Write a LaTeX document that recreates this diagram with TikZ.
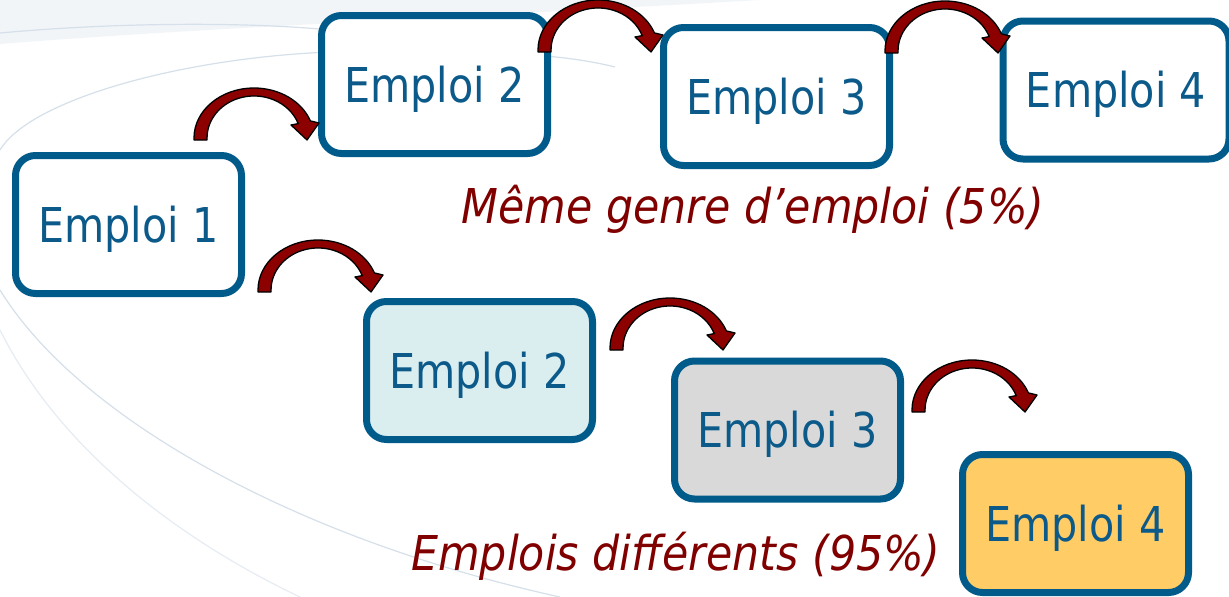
\documentclass[tikz,border=0pt]{standalone}
\usepackage{fontspec}
\setmainfont{DejaVu Sans}[FakeStretch=0.86]
\newfontfamily\labfont{DejaVu Sans}[FakeStretch=0.89]
\definecolor{boxblue}{RGB}{0,90,138}
\definecolor{txtblue}{RGB}{12,90,138}
\definecolor{darkred}{RGB}{128,0,0}
\definecolor{arrowred}{RGB}{140,0,0}
\definecolor{lightcyan}{RGB}{218,238,240}
\definecolor{lightgrey}{RGB}{217,217,217}
\definecolor{softyellow}{RGB}{255,204,102}
\definecolor{swoosh}{RGB}{214,224,234}
\definecolor{haze}{RGB}{242,245,248}
\newcommand\jobarrow[1]{%
  \begin{scope}[shift={(#1)}]
    \filldraw[arrowshape] (0,0) -- (0,-2)
      arc[start angle=180, end angle=340, x radius=60, y radius=50]
      -- (125,-17) -- (113,0) -- (97,-15) -- (104.2,-16.4)
      arc[start angle=340, end angle=180, x radius=47, y radius=42]
      -- (13,0) -- cycle;
  \end{scope}}
\begin{document}
\begin{tikzpicture}[x=1pt,y=-1pt,
  jobbox/.style={draw=boxblue, line width=7pt, rounded corners=20pt,
    minimum width=226pt, minimum height=138pt, inner sep=0pt,
    text height=35pt, text depth=0pt, text=txtblue,
    font=\fontsize{48}{58}\selectfont, fill=white},
  lab/.style={text=darkred, anchor=base, inner sep=0pt,
    font=\labfont\itshape\fontsize{48}{58}\selectfont},
  swoo/.style={draw=swoosh, line width=1.2pt},
  arrowshape/.style={fill=arrowred, draw=black, line width=1.3pt, line join=round}
]
\useasboundingbox (0,0) rectangle (1229,597);
\clip (0,0) rectangle (1229,597);
% background
\fill[white] (0,0) rectangle (1229,597);
\fill[haze] (0,0) -- (760,0) .. controls (450,18) and (200,28) .. (0,44) -- cycle;
\draw[swoo] (0,33) .. controls (120,22) and (250,22) .. (330,30);
\draw[swoo] (330,52) .. controls (180,58) and (30,100) .. (0,150);
\draw[swoo] (545,56) .. controls (570,58) and (595,62) .. (615,67);
\draw[swoo] (0,290) .. controls (80,420) and (300,540) .. (560,597);
\draw[swoo, opacity=.6] (0,330) .. controls (60,450) and (180,540) .. (300,597);
% boxes
\node[jobbox] (e1) at (128.5,224.5) {Emploi 1};
\node[jobbox] (t2) at (434.5,84.5) {Emploi 2};
\node[jobbox] (t3) at (776.5,96.5) {Emploi 3};
\node[jobbox] (t4) at (1116,90) {Emploi 4};
\node[jobbox, fill=lightcyan] (b2) at (479.5,370.5) {Emploi 2};
\node[jobbox, fill=lightgrey] (b3) at (787.5,430) {Emploi 3};
\node[jobbox, fill=softyellow] (b4) at (1075.5,523.5) {Emploi 4};
% labels
\node[lab] (same) at (753,223) {Même genre d’emploi (5\%)};
\node[lab] (diff) at (676,570) {Emplois différents (95\%)};
% arrows
\jobarrow{194,140}
\jobarrow{258,292}
\jobarrow{538,52}
\jobarrow{885,53}
\jobarrow{610,350}
\jobarrow{912,412}
\end{tikzpicture}
\end{document}
